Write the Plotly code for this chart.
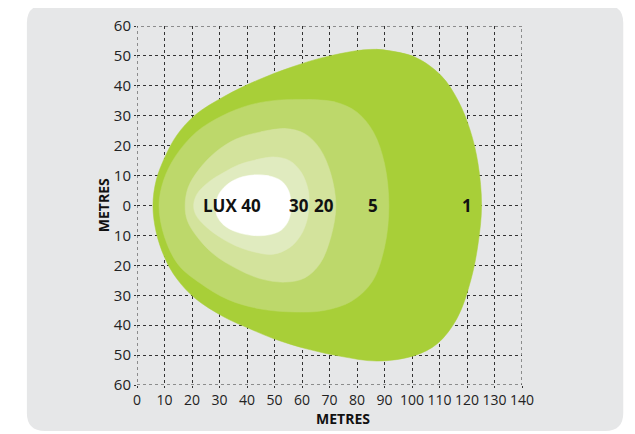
import plotly.graph_objects as go

# ---- data (metres) ----
x_ticks = [0, 10, 20, 30, 40, 50, 60, 70, 80, 90, 100, 110, 120, 130, 140]
y_tickvals = [60, 50, 40, 30, 20, 10, 0, -10, -20, -30, -40, -50, -60]
y_ticktext = ["60", "50", "40", "30", "20", "10", "0", "10", "20", "30", "40", "50", "60"]

lux1_x = [87, 100.6, 110.5, 116.8, 121.2, 124, 125.3, 124, 121.4, 116.5, 109.3, 100.8, 87.4, 74, 62, 50, 40, 31.5, 21.1, 14.5, 10.2, 7, 5.8, 7, 10.2, 14.5, 21.1, 32, 43.6, 56, 70]
lux1_y = [52.2, 49.8, 43.5, 35, 25, 14, 0, -13, -24.9, -37.5, -46.1, -50.2, -52, -50.4, -48, -44.6, -40.8, -37.2, -31, -24.5, -17.7, -9, 0, 8.5, 16.3, 23.5, 30.2, 36.6, 41.8, 46.2, 50]

lux5_x = [62, 72, 80, 86, 90, 91.6, 90, 85.5, 78, 68, 57.6, 45, 33, 23, 15.1, 10, 8, 9.7, 14, 21.5, 31, 41, 51]
lux5_y = [35.4, 34.6, 31.2, 24.5, 14, 0, -14, -25.5, -32, -35.1, -35.6, -34.6, -31.4, -26, -19.9, -10.5, 0, 8.5, 16.5, 24.5, 30, 33.6, 35.2]

lux20_x = [45, 54, 61, 66.5, 70.5, 72.3, 70.5, 66.5, 61, 54, 45, 36, 27.5, 21.5, 18.3, 17.5, 18.6, 22.5, 28.5, 36]
lux20_y = [24.6, 25.7, 24, 19, 10.5, 0, -10.5, -19.5, -24.2, -25.6, -24.5, -21, -16, -10, -5, 0, 6, 12, 17.8, 22.2]

lux30_x = [43, 49.7, 55.5, 59.8, 62.3, 62.5, 61.8, 59.5, 55.6, 49.5, 43, 36, 30.5, 25, 21.5, 20.6, 21.8, 26, 31.5, 37]
lux30_y = [15.2, 16.2, 15, 11, 5, 0, -5, -10, -14, -16.3, -15.6, -13.5, -10.8, -7, -3.3, 0, 3.8, 7.8, 11, 13.6]

lux40_x = [42.5, 48, 52.5, 55.2, 56, 55.2, 52.5, 48, 42, 36, 31.5, 29, 28.8, 29.6, 32.5, 37]
lux40_y = [10.2, 9.9, 8.2, 4.8, 0, -4.8, -8.2, -9.8, -10, -8.8, -6.5, -3.3, 0, 3.5, 6.8, 9.2]

label_text = ["LUX 40", "30", "20", "5", "1"]
label_x = [34.7, 58.8, 67.9, 85.8, 119.9]
label_y = [0.1, 0.1, 0.1, 0.1, 0.1]

colors = ["#a8cf38", "#bdd86b", "#d3e39c", "#e0ebbf", "#ffffff"]


def closed(xs, ys):
    # repeat first two points so the spline closes smoothly
    return list(xs) + list(xs[:2]), list(ys) + list(ys[:2])


fig = go.Figure()
for (xs, ys), col in zip(
    [(lux1_x, lux1_y), (lux5_x, lux5_y), (lux20_x, lux20_y), (lux30_x, lux30_y), (lux40_x, lux40_y)],
    colors,
):
    cx, cy = closed(xs, ys)
    fig.add_trace(go.Scatter(
        x=cx, y=cy, mode="lines", fill="toself", fillcolor=col,
        line=dict(color=col, width=0.5, shape="spline", smoothing=1),
        hoverinfo="skip", showlegend=False,
    ))

for t, x, y in zip(label_text, label_x, label_y):
    fig.add_annotation(x=x, y=y, text="<b>%s</b>" % t, showarrow=False,
                       font=dict(family="Open Sans", size=17, color="#111"),
                       xanchor="center", yanchor="middle")

# card background (rounded rectangle) in paper coords
x0, x1, y0, y1 = -0.286, 1.263, -0.128, 1.0585
rx, ry = 0.047, 0.050
card = (f"M {x0+rx},{y1} L {x1-rx},{y1} Q {x1},{y1} {x1},{y1-ry} "
        f"L {x1},{y0+ry} Q {x1},{y0} {x1-rx},{y0} L {x0+rx},{y0} "
        f"Q {x0},{y0} {x0},{y0+ry} L {x0},{y1-ry} Q {x0},{y1} {x0+rx},{y1} Z")
fig.add_shape(type="path", xref="paper", yref="paper", path=card,
              fillcolor="#e6e7e8", line=dict(width=0), layer="below")

# dotted frame
fig.add_shape(type="rect", xref="x", yref="y", x0=0, x1=140, y0=-60, y1=60,
              line=dict(color="#333", width=1, dash="dot"), layer="below")

fig.add_annotation(x=0.535, y=-0.092, xref="paper", yref="paper", text="<b>METRES</b>",
                   showarrow=False, font=dict(family="Open Sans", size=14, color="#111"),
                   xanchor="center", yanchor="middle")
fig.add_annotation(x=-0.088, y=0.501, xref="paper", yref="paper", text="<b>METRES</b>",
                   showarrow=False, textangle=-90,
                   font=dict(family="Open Sans", size=14, color="#111"),
                   xanchor="center", yanchor="middle")

fig.update_xaxes(range=[0, 140], tickvals=x_ticks, showgrid=True, gridcolor="#333",
                 griddash="dot", gridwidth=1, zeroline=False, showline=False,
                 ticks="outside", ticklen=2, tickcolor="#333", tickangle=0, automargin=False,
                 tickfont=dict(family="Open Sans", size=14, color="#222"), fixedrange=True)
fig.update_yaxes(range=[-60, 60], tickvals=y_tickvals, ticktext=y_ticktext, showgrid=True,
                 gridcolor="#333", griddash="dot", gridwidth=1, zeroline=False, showline=False,
                 ticks="outside", ticklen=2, tickcolor="#333", automargin=False,
                 tickfont=dict(family="Open Sans", size=15, color="#222"), fixedrange=True)

fig.update_layout(
    width=635, height=434,
    margin=dict(l=129, r=121, t=18, b=57),
    paper_bgcolor="white", plot_bgcolor="rgba(0,0,0,0)",
    showlegend=False,
)

fig.write_html("out.html")
